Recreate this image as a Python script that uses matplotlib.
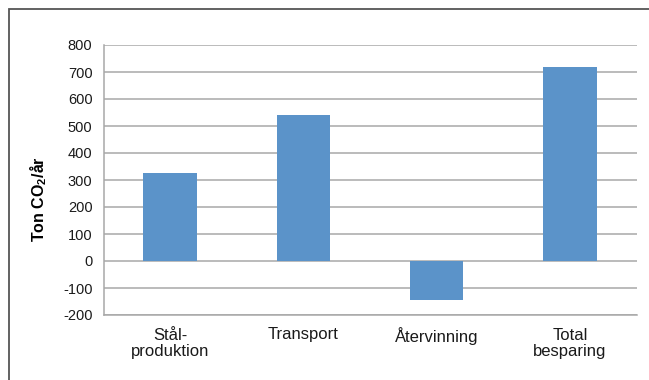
import matplotlib
matplotlib.use('Agg')
import matplotlib.pyplot as plt
from matplotlib.patches import Rectangle

categories = ["Stål-\nproduktion", "Transport", "Återvinning", "Total\nbesparing"]
values = [325, 540, -145, 720]
yticks = [-200, -100, 0, 100, 200, 300, 400, 500, 600, 700, 800]

plt.rcParams['font.family'] = ['Liberation Sans', 'DejaVu Sans']
plt.rcParams['mathtext.fontset'] = 'custom'
plt.rcParams['mathtext.rm'] = 'Liberation Sans'
plt.rcParams['mathtext.bf'] = 'Liberation Sans:bold'

fig = plt.figure(figsize=(6.49, 3.80), dpi=100)
ax = fig.add_axes([103.5 / 649, 1 - 315 / 380, (636.5 - 103.5) / 649, (315 - 45) / 380])

# outer frame (only top and left visible in the reference)
fig.patches.append(Rectangle((9 / 649, -0.05), 1.2, 1 - 9 / 380 + 0.05,
                             transform=fig.transFigure, fill=False,
                             edgecolor='#555555', linewidth=1.3))

x = range(len(categories))
ax.bar(x, values, width=0.4, color='#5B93C9', zorder=3)

ax.set_xlim(-0.5, len(categories) - 0.5)
ax.set_ylim(-200, 800)
ax.set_yticks(yticks)
ax.set_yticklabels([str(v) for v in yticks], fontsize=10.5)
ax.set_xticks(list(x))
ax.set_xticklabels(categories, fontsize=12, linespacing=1.15)
ax.tick_params(length=0, pad=8, colors='#1a1a1a')
ax.tick_params(axis='x', pad=9)

ax.yaxis.grid(True, color='#A8A8A8', linewidth=1.1, zorder=0)
for s in ['top', 'right']:
    ax.spines[s].set_visible(False)
for s in ['left', 'bottom']:
    ax.spines[s].set_color('#A8A8A8')
    ax.spines[s].set_linewidth(1.1)

ax.set_ylabel('Ton CO$_\\mathbf{2}$/år', fontsize=11.5, fontweight='bold')
ax.yaxis.set_label_coords(-0.103, 0.43)

fig.savefig('out.png', dpi=100)
